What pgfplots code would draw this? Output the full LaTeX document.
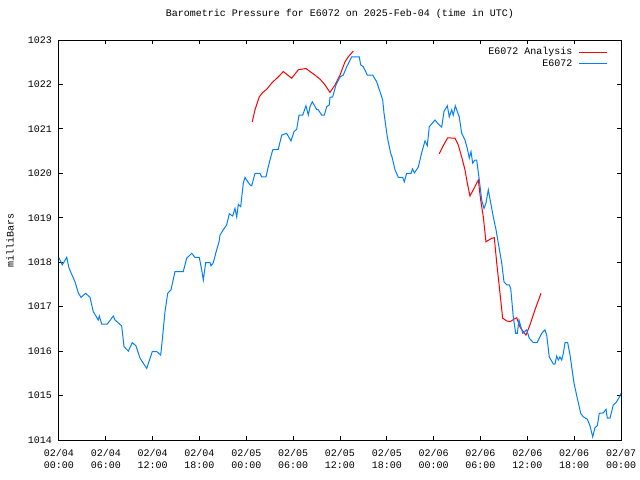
\documentclass[border=0pt]{standalone}
\usepackage{pgfplots}
\pgfplotsset{compat=1.18}
\usepackage{fontspec}
\setmainfont{Liberation Mono}
\definecolor{gblue}{RGB}{0,128,255}
\definecolor{gred}{RGB}{255,0,0}
\begin{document}
\fontsize{10bp}{12.5bp}\selectfont
\begin{tikzpicture}
\useasboundingbox (-59bp,-40bp) rectangle (581bp,440bp);
\begin{axis}[
  at={(0,0)}, anchor=south west,
  scale only axis, width=562bp, height=400bp,
  xmin=0, xmax=72, ymin=1014, ymax=1023,
  xtick={0,6,...,72}, ytick={1014,1015,...,1023},
  xticklabels={{02/04\\00:00},{02/04\\06:00},{02/04\\12:00},{02/04\\18:00},{02/05\\00:00},{02/05\\06:00},{02/05\\12:00},{02/05\\18:00},{02/06\\00:00},{02/06\\06:00},{02/06\\12:00},{02/06\\18:00},{02/07\\00:00}},
  /pgf/number format/assume math mode=true,
  /pgf/number format/1000 sep={},
  yticklabel style={/pgf/number format/fixed, inner sep=0pt, anchor=east, xshift=-7bp},
  xticklabel style={align=center, inner sep=0pt, anchor=north, yshift=-9bp},
  tick align=inside, major tick length=4bp,
  tick style={black, line width=1bp},
  axis line style={black, line width=1bp},
  title={Barometric Pressure for E6072 on 2025-Feb-04 (time in UTC)},
  title style={at={(rel axis cs:0.5,1)}, anchor=center, yshift=20bp, inner sep=0pt},
  ylabel={milliBars},
  ylabel style={at={(rel axis cs:0,0.5)}, anchor=center, inner sep=0pt, yshift=49bp},
  legend cell align=right, legend plot pos=right,
  legend style={draw=none, fill=none, at={(rel axis cs:1,1)}, anchor=north east, xshift=-10bp, yshift=-4bp, row sep=0bp, nodes={inner sep=1.5bp}, /tikz/every odd column/.append style={column sep=5bp}},
  legend image code/.code={\draw[#1] (0bp,0bp) -- (28bp,0bp);},
  unbounded coords=jump,
  clip=true,
]
\addplot[gred, line width=1bp] coordinates {
(24.76,1021.16) (25.11,1021.43) (25.66,1021.72) (26.10,1021.82) (26.61,1021.89) (27.25,1022.03)
(28.09,1022.17) (28.74,1022.29) (29.81,1022.14) (30.66,1022.33) (31.64,1022.36) (32.16,1022.29)
(32.80,1022.21) (33.44,1022.12) (34.08,1021.99) (34.72,1021.82) (35.36,1021.99) (36.00,1022.21)
(36.64,1022.51) (37.06,1022.62) (37.70,1022.75)
(43.00,nan)
(48.72,1020.44) (49.16,1020.60) (49.80,1020.80) (50.73,1020.79) (51.15,1020.64) (51.59,1020.37)
(52.01,1020.08) (52.31,1019.78) (52.65,1019.49) (53.08,1019.63) (53.72,1019.85) (54.02,1019.40)
(54.36,1019.02) (54.70,1018.46) (55.43,1018.54) (55.77,1018.55) (56.08,1017.98) (56.41,1017.45)
(56.84,1016.74) (57.36,1016.68) (57.78,1016.66) (58.29,1016.72) (58.64,1016.75) (59.06,1016.54)
(59.48,1016.44) (59.83,1016.36) (60.34,1016.59) (60.98,1016.93) (61.75,1017.30)
};
\addlegendentry{E6072 Analysis}
\addplot[gblue, line width=1bp] coordinates {
(0.00,1018.10) (0.42,1017.94) (0.99,1018.11) (1.28,1017.87) (2.05,1017.56) (2.47,1017.31)
(2.82,1017.21) (3.42,1017.30) (3.97,1017.21) (4.39,1016.89) (5.03,1016.70) (5.16,1016.79)
(5.47,1016.61) (6.19,1016.61) (6.96,1016.79) (7.17,1016.70) (8.03,1016.57) (8.33,1016.10)
(8.88,1016.00) (9.39,1016.19) (9.86,1016.12) (10.38,1015.84) (11.24,1015.61) (11.95,1015.99)
(12.52,1015.99) (13.03,1015.91) (13.23,1016.25) (13.58,1016.89) (13.93,1017.30) (14.35,1017.38)
(14.86,1017.79) (15.92,1017.79) (16.36,1018.09) (17.00,1018.20) (17.42,1018.11) (17.97,1018.11)
(18.28,1017.83) (18.49,1017.60) (18.79,1017.99) (19.35,1017.99) (19.47,1017.92) (19.77,1017.99)
(20.08,1018.20) (20.50,1018.46) (20.63,1018.61) (20.97,1018.71) (21.48,1018.84) (21.82,1019.09)
(22.25,1019.04) (22.55,1019.21) (22.77,1019.02) (22.97,1019.30) (23.28,1019.25) (23.61,1019.78)
(23.83,1019.91) (23.96,1019.87) (24.47,1019.74) (24.69,1019.72) (25.11,1020.00) (25.75,1020.00)
(25.97,1019.92) (26.52,1019.92) (26.81,1020.15) (27.38,1020.53) (28.09,1020.54) (28.53,1020.86)
(29.17,1020.90) (29.72,1020.73) (30.11,1020.94) (30.45,1020.99) (30.75,1021.31) (31.22,1021.31)
(31.64,1021.52) (31.94,1021.31) (32.16,1021.50) (32.45,1021.61) (33.01,1021.44) (33.22,1021.43)
(33.66,1021.31) (33.99,1021.31) (34.30,1021.50) (34.63,1021.54) (34.72,1021.71) (35.06,1021.72)
(35.49,1021.99) (36.00,1022.17) (36.42,1022.21) (36.86,1022.40) (37.50,1022.62) (38.47,1022.62)
(38.65,1022.44) (38.98,1022.40) (39.50,1022.21) (40.19,1022.21) (40.70,1022.06) (41.12,1021.84)
(41.47,1021.65) (41.64,1021.35) (41.76,1021.20) (42.06,1020.82) (42.49,1020.45) (42.66,1020.37)
(43.05,1020.08) (43.47,1019.91) (44.03,1019.91) (44.24,1019.81) (44.54,1020.00) (45.10,1020.00)
(45.29,1020.10) (45.54,1020.01) (46.03,1020.14) (46.47,1020.47) (46.89,1020.73) (47.18,1020.62)
(47.44,1021.05) (48.17,1021.20) (48.59,1021.11) (49.03,1021.04) (49.32,1021.39) (49.75,1021.52)
(50.00,1021.27) (50.31,1021.43) (50.51,1021.31) (50.77,1021.52) (51.03,1021.39) (51.28,1021.27)
(51.59,1020.90) (52.01,1020.75) (52.31,1020.56) (52.56,1020.34) (52.78,1020.49) (53.00,1020.23)
(53.29,1020.30) (53.51,1020.30) (53.85,1019.85) (54.15,1019.40) (54.45,1019.21) (54.70,1019.33)
(55.00,1019.63) (55.31,1019.33) (55.64,1019.02) (55.99,1018.73) (56.28,1018.43) (56.72,1017.98)
(57.01,1017.56) (57.36,1017.49) (57.69,1017.49) (57.87,1017.41) (58.20,1016.77) (58.51,1016.40)
(58.72,1016.40) (58.93,1016.70) (59.41,1016.40) (59.92,1016.48) (60.25,1016.29) (60.77,1016.19)
(61.24,1016.19) (61.84,1016.40) (62.26,1016.48) (62.48,1016.36) (62.81,1015.87) (63.33,1015.71)
(63.54,1015.71) (63.76,1015.89) (63.97,1015.80) (64.18,1015.87) (64.40,1015.80) (64.61,1015.95)
(64.83,1016.19) (65.17,1016.19) (65.47,1015.91) (65.68,1015.65) (65.98,1015.28) (66.40,1014.94)
(66.84,1014.60) (67.17,1014.52) (67.68,1014.47) (68.03,1014.32) (68.37,1014.07) (68.67,1014.28)
(68.96,1014.32) (69.22,1014.60) (69.73,1014.61) (70.08,1014.69) (70.25,1014.49) (70.59,1014.49)
(71.01,1014.79) (71.36,1014.84) (71.87,1014.99) (72.00,1015.05)
};
\addlegendentry{E6072}
\end{axis}
\end{tikzpicture}
\end{document}
